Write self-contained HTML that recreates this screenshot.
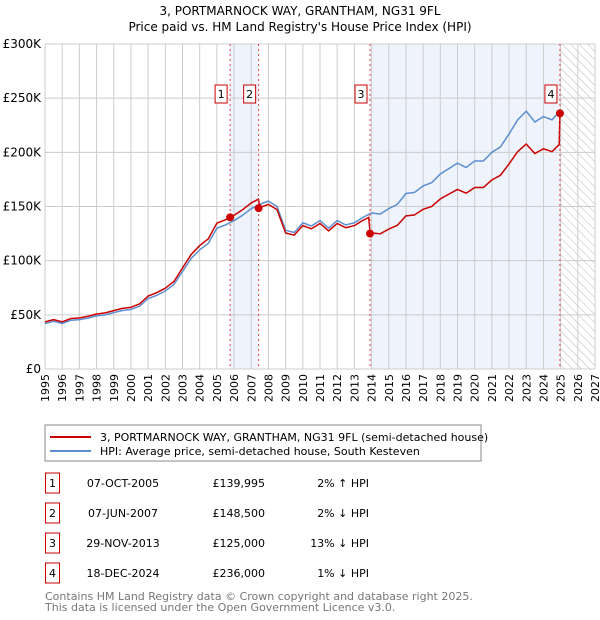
<!DOCTYPE html>
<html><head><meta charset="utf-8"><style>
body{margin:0;background:#fff;font-family:"Liberation Sans","DejaVu Sans",sans-serif;}
#wrap{position:relative;width:600px;height:620px;overflow:hidden}
svg text{font-family:"DejaVu Sans","Liberation Sans",sans-serif}
</style></head><body><div id="wrap">
<svg id="chart" width="600" height="620" xmlns="http://www.w3.org/2000/svg">
<defs><pattern id="hatch" width="6" height="6" patternUnits="userSpaceOnUse" patternTransform="rotate(-45)"><line x1="0" y1="0" x2="0" y2="6" stroke="#bbb" stroke-width="1"/></pattern></defs>
<text x="300" y="15" text-anchor="middle" font-size="12">3, PORTMARNOCK WAY, GRANTHAM, NG31 9FL</text>
<text x="300" y="31" text-anchor="middle" font-size="12">Price paid vs. HM Land Registry's House Price Index (HPI)</text>
<g id="plot"></g>
<rect x="45" y="425" width="436" height="36" fill="#fff" stroke="#888"/>
<line x1="50" y1="437" x2="91" y2="437" stroke="#cc0000" stroke-width="2"/>
<text x="100" y="441" font-size="11">3, PORTMARNOCK WAY, GRANTHAM, NG31 9FL (semi-detached house)</text>
<line x1="50" y1="451" x2="91" y2="451" stroke="#5b8fd0" stroke-width="2"/>
<text x="100" y="455" font-size="11">HPI: Average price, semi-detached house, South Kesteven</text>
<g id="table"></g>
<text x="45" y="600" font-size="11" fill="#777">Contains HM Land Registry data © Crown copyright and database right 2025.</text>
<text x="45" y="611" font-size="11" fill="#777">This data is licensed under the Open Government Licence v3.0.</text>
</svg></div>
<script>
const hpiYears=[1995.0,1995.5,1996.0,1996.5,1997.0,1997.5,1998.0,1998.5,1999.0,1999.5,2000.0,2000.5,2001.0,2001.5,2002.0,2002.5,2003.0,2003.5,2004.0,2004.5,2005.0,2005.5,2006.0,2006.5,2007.0,2007.5,2008.0,2008.5,2009.0,2009.5,2010.0,2010.5,2011.0,2011.5,2012.0,2012.5,2013.0,2013.5,2014.0,2014.5,2015.0,2015.5,2016.0,2016.5,2017.0,2017.5,2018.0,2018.5,2019.0,2019.5,2020.0,2020.5,2021.0,2021.5,2022.0,2022.5,2023.0,2023.5,2024.0,2024.5,2025.0];
const hpiValues=[42,44,42,45,45.5,47,49,50,52,54,55,58,65,68,72,78,90,102,110,116,130,133,137,142,148,152,155,150,128,126,135,132,137,130,137,133,135,140,144,143,148,152,162,163,169,172,180,185,190,186,192,192,200,205,217,230,238,228,233,230,239];
const saleLabels=["1","2","3","4"];
const saleDates=[2005.77,2007.43,2013.91,2024.96];
const saleDateText=["07-OCT-2005","07-JUN-2007","29-NOV-2013","18-DEC-2024"];
const salePrices=[139.995,148.5,125,236];
const salePriceText=["£139,995","£148,500","£125,000","£236,000"];
const saleHpiText=["2% ↑ HPI","2% ↓ HPI","13% ↓ HPI","1% ↓ HPI"];
const yTicks=[0,50,100,150,200,250,300];
const yTickLabels=["£0","£50K","£100K","£150K","£200K","£250K","£300K"];
const xTicks=[1995,1996,1997,1998,1999,2000,2001,2002,2003,2004,2005,2006,2007,2008,2009,2010,2011,2012,2013,2014,2015,2016,2017,2018,2019,2020,2021,2022,2023,2024,2025,2026,2027];

const NS="http://www.w3.org/2000/svg";
const L=45,R=595,T=44,B=369;
const x=v=>L+(v-1995)/(2027-1995)*(R-L);
const y=v=>B-v/300*(B-T);
const plot=document.getElementById('plot');
function mk(tag,attrs,parent){const e=document.createElementNS(NS,tag);for(const k in attrs)e.setAttribute(k,attrs[k]);(parent||plot).appendChild(e);return e;}
function hpiAt(t){if(t<=hpiYears[0])return hpiValues[0];for(let i=1;i<hpiYears.length;i++){if(t<=hpiYears[i]){const f=(t-hpiYears[i-1])/(hpiYears[i]-hpiYears[i-1]);return hpiValues[i-1]+f*(hpiValues[i]-hpiValues[i-1]);}}return hpiValues[hpiValues.length-1];}

let bg=mk('rect',{x:L,y:T,width:R-L,height:B-T,fill:'#fff'});


let s1=mk('rect',{x:x(saleDates[0]),y:T,width:x(saleDates[1])-x(saleDates[0]),height:B-T,fill:'#eef3fc'});


let s2=mk('rect',{x:x(saleDates[2]),y:T,width:x(saleDates[3])-x(saleDates[2]),height:B-T,fill:'#eef3fc'});


let ht=mk('rect',{x:x(2025),y:T,width:R-x(2025),height:B-T,fill:'url(#hatch)'});


xTicks.forEach(t=>{
  let g=mk('line',{x1:x(t),x2:x(t),y1:T,y2:B,stroke:'#ccc','stroke-width':1});
  
  
  let tx=mk('text',{x:0,y:0,'font-size':11,'text-anchor':'end',transform:`translate(${x(t)+4},${B+5}) rotate(-90)`});
  tx.textContent=t;
  
  
});
yTicks.forEach((t,i)=>{
  let g=mk('line',{x1:L,x2:R,y1:y(t),y2:y(t),stroke:'#ccc','stroke-width':1});
  
  
  let tx=mk('text',{x:L-4,y:y(t)+4,'font-size':12,'text-anchor':'end'});
  tx.textContent=yTickLabels[i];
  
  
});
// HPI line
let pts=[];for(let t=1995;t<=2025.0001;t+=1/12)pts.push([t,hpiAt(t)]);
let hl=mk('polyline',{points:pts.map(p=>x(p[0])+','+y(p[1])).join(' '),fill:'none',stroke:'#5b8fd0','stroke-width':1.5});


// property line: HPI scaled by last sale ratio
function ratioAt(t){let idx=0;for(let i=0;i<saleDates.length;i++)if(t>=saleDates[i])idx=i;return salePrices[idx]/hpiAt(saleDates[idx]);}
let rp=[];for(let t=1995;t<=saleDates[3]+0.001;t+=1/12){rp.push([t,hpiAt(t)*ratioAt(t)]);}
rp.push([saleDates[3],salePrices[3]]);
let pl=mk('polyline',{points:rp.map(p=>x(p[0])+','+y(p[1])).join(' '),fill:'none',stroke:'#cc0000','stroke-width':1.5});


saleDates.forEach((d,i)=>{
  let vl=mk('line',{x1:x(d),x2:x(d),y1:T,y2:B,stroke:'#e04040','stroke-width':1,'stroke-dasharray':'2,3'});
  
  
  let bx=mk('rect',{x:x(d)-15,y:85,width:12,height:18,fill:'#fff',stroke:'#cc0000'});
  
  
  let bt=mk('text',{x:x(d)-9,y:98,'font-size':11,'text-anchor':'middle'});
  bt.textContent=saleLabels[i];
  
  
  let dot=mk('circle',{cx:x(d),cy:y(salePrices[i]),r:4,fill:'#cc0000'});
  
  
});
const tb=document.getElementById('table');
saleDates.forEach((d,i)=>{
  const cy=483+i*30;
  let b=mk('rect',{x:45.5,y:cy-10,width:14,height:20,fill:'#fff',stroke:'#cc0000'},tb);
  
  
  let n=mk('text',{x:52.5,y:cy+4,'font-size':11,'text-anchor':'middle'},tb);n.textContent=saleLabels[i];
  
  
  let a=mk('text',{x:123,y:cy+4,'font-size':11,'text-anchor':'middle'},tb);a.textContent=saleDateText[i];
  
  
  let p=mk('text',{x:265,y:cy+4,'font-size':11,'text-anchor':'end'},tb);p.textContent=salePriceText[i];
  
  
  let h=mk('text',{x:369,y:cy+4,'font-size':11,'text-anchor':'end'},tb);h.textContent=saleHpiText[i];
  
  
});
</script></body></html>
